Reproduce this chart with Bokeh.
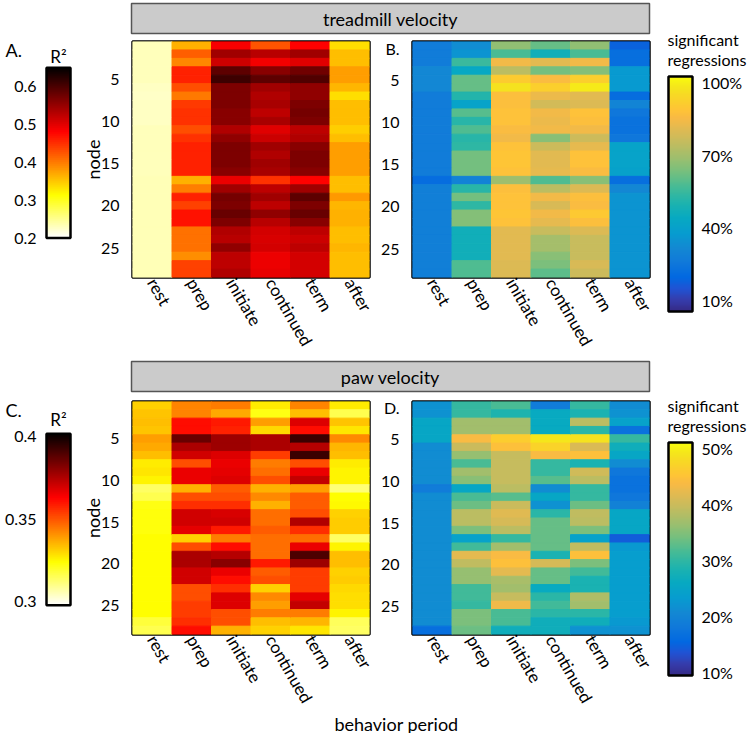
import numpy as np
from bokeh.plotting import figure
from bokeh.layouts import row, column
from bokeh.models import (ColumnDataSource, LinearColorMapper, FactorRange, Range1d,
                          FixedTicker, Label, CustomJSTickFormatter)
from bokeh.core.properties import value
from bokeh.transform import transform
from bokeh.embed import file_html
from bokeh.resources import INLINE

FONT = "Lato"

periods = ["rest", "prep", "initiate", "continued", "term", "after"]
nodes = list(range(1, 29))

# ---- Panel A: treadmill velocity, R^2 ----
A_rest = [0.230, 0.230, 0.230, 0.230, 0.230, 0.228, 0.226, 0.228, 0.228, 0.228, 0.230, 0.230, 0.230, 0.230,
          0.230, 0.230, 0.232, 0.232, 0.232, 0.232, 0.232, 0.232, 0.232, 0.232, 0.232, 0.232, 0.232, 0.232]
A_prep = [0.365, 0.418, 0.392, 0.460, 0.460, 0.429, 0.402, 0.444, 0.449, 0.449, 0.429, 0.449, 0.460, 0.460,
          0.460, 0.460, 0.365, 0.397, 0.460, 0.439, 0.470, 0.470, 0.407, 0.407, 0.407, 0.387, 0.439, 0.439]
A_init = [0.485, 0.544, 0.513, 0.587, 0.608, 0.566, 0.566, 0.566, 0.560, 0.560, 0.533, 0.555, 0.566, 0.566,
          0.566, 0.560, 0.495, 0.544, 0.571, 0.566, 0.581, 0.566, 0.533, 0.528, 0.555, 0.524, 0.524, 0.533]
A_cont = [0.426, 0.528, 0.490, 0.560, 0.587, 0.544, 0.533, 0.538, 0.524, 0.538, 0.502, 0.515, 0.544, 0.533,
          0.544, 0.538, 0.449, 0.524, 0.544, 0.524, 0.555, 0.528, 0.511, 0.506, 0.511, 0.492, 0.492, 0.497]
A_term = [0.480, 0.544, 0.502, 0.576, 0.596, 0.555, 0.555, 0.566, 0.571, 0.566, 0.524, 0.533, 0.560, 0.566,
          0.566, 0.560, 0.480, 0.544, 0.587, 0.566, 0.581, 0.560, 0.524, 0.515, 0.524, 0.511, 0.511, 0.511]
A_after = [0.334, 0.355, 0.355, 0.376, 0.376, 0.360, 0.334, 0.355, 0.355, 0.355, 0.345, 0.355, 0.376, 0.376,
           0.376, 0.376, 0.355, 0.355, 0.380, 0.360, 0.365, 0.365, 0.355, 0.355, 0.360, 0.355, 0.355, 0.355]

# ---- Panel B: treadmill velocity, % significant regressions ----
B_rest = [27, 27, 27, 31, 31, 31, 27, 27, 27, 27, 27, 27, 27, 27, 27, 27, 21, 28, 28, 28, 28, 28, 28, 28, 28, 28, 28, 28]
B_prep = [33, 35, 55, 43, 61, 61, 51, 41, 59, 52, 58, 52, 53, 63, 63, 63, 29, 52, 63, 53, 65, 65, 47, 47, 47, 47, 58, 58]
B_init = [67, 57, 84, 74, 91, 97, 87, 87, 88, 88, 86, 84, 88, 89, 89, 88, 69, 87, 88, 88, 89, 88, 81, 81, 81, 81, 80, 80]
B_cont = [61, 47, 81, 63, 86, 92, 83, 78, 84, 83, 84, 66, 77, 81, 81, 82, 58, 74, 84, 79, 84, 82, 76, 70, 70, 66, 64, 60]
B_term = [67, 57, 84, 65, 92, 99, 81, 80, 88, 87, 84, 77, 82, 88, 88, 86, 66, 80, 87, 86, 90, 87, 80, 76, 76, 76, 79, 77]
B_after = [18, 22, 22, 37, 37, 37, 21, 30, 25, 23, 23, 25, 41, 41, 41, 40, 22, 31, 35, 35, 35, 35, 35, 35, 35, 35, 35, 35]

# ---- Panel C: paw velocity, R^2 ----
C_rest = [0.331, 0.333, 0.334, 0.333, 0.339, 0.337, 0.334, 0.327, 0.328, 0.326, 0.314, 0.316, 0.322, 0.323,
          0.323, 0.323, 0.324, 0.324, 0.324, 0.324, 0.324, 0.324, 0.324, 0.324, 0.324, 0.324, 0.318, 0.316]
C_prep = [0.343, 0.343, 0.361, 0.361, 0.386, 0.376, 0.370, 0.351, 0.366, 0.366, 0.336, 0.351, 0.356, 0.370,
          0.370, 0.367, 0.331, 0.351, 0.376, 0.376, 0.370, 0.370, 0.351, 0.351, 0.354, 0.354, 0.356, 0.361]
C_init = [0.344, 0.337, 0.359, 0.358, 0.378, 0.378, 0.368, 0.366, 0.367, 0.368, 0.349, 0.351, 0.356, 0.369,
          0.370, 0.359, 0.344, 0.361, 0.374, 0.381, 0.366, 0.361, 0.356, 0.368, 0.368, 0.351, 0.351, 0.336]
C_cont = [0.327, 0.322, 0.339, 0.330, 0.376, 0.376, 0.354, 0.344, 0.346, 0.351, 0.336, 0.342, 0.336, 0.346,
          0.346, 0.349, 0.346, 0.346, 0.346, 0.359, 0.349, 0.351, 0.331, 0.342, 0.339, 0.344, 0.334, 0.331]
C_term = [0.343, 0.334, 0.368, 0.361, 0.393, 0.374, 0.393, 0.351, 0.366, 0.372, 0.339, 0.349, 0.349, 0.351,
          0.375, 0.356, 0.346, 0.366, 0.390, 0.378, 0.354, 0.354, 0.354, 0.367, 0.372, 0.344, 0.335, 0.328]
C_after = [0.327, 0.316, 0.333, 0.328, 0.342, 0.335, 0.334, 0.327, 0.326, 0.326, 0.312, 0.324, 0.325, 0.331,
           0.332, 0.332, 0.314, 0.326, 0.334, 0.334, 0.331, 0.332, 0.330, 0.329, 0.329, 0.326, 0.315, 0.314]

# ---- Panel D: paw velocity, % significant regressions ----
D_rest = [22.0, 22.0, 25.4, 25.4, 25.4, 21.2, 21.2, 21.2, 21.2, 21.2, 18.7, 21.2, 21.2, 21.2,
          21.2, 21.2, 21.2, 21.2, 21.2, 21.2, 21.2, 21.2, 21.2, 21.2, 21.2, 21.2, 21.2, 16.6]
D_prep = [30.4, 30.4, 37.1, 37.1, 43.8, 40.0, 36.3, 31.7, 37.1, 35.4, 25.4, 31.7, 33.7, 38.8,
          38.8, 34.6, 24.5, 31.2, 42.1, 39.2, 36.3, 36.3, 31.2, 31.2, 30.4, 34.6, 34.6, 33.7]
D_init = [31.7, 28.7, 37.1, 37.1, 46.3, 44.6, 39.6, 39.6, 39.6, 39.6, 38.8, 32.5, 40.0, 41.7,
          40.9, 38.8, 30.4, 37.1, 43.8, 44.6, 42.1, 37.5, 37.1, 39.6, 43.0, 31.7, 31.7, 27.1]
D_cont = [18.7, 26.2, 26.2, 26.2, 49.2, 47.1, 43.8, 30.4, 30.4, 32.5, 21.2, 25.4, 22.0, 29.6,
          33.3, 33.3, 33.3, 33.3, 28.3, 40.9, 33.3, 33.3, 26.2, 29.6, 31.2, 29.6, 27.1, 27.1]
D_term = [30.4, 28.3, 38.8, 29.6, 48.8, 41.3, 44.6, 28.3, 40.4, 38.8, 30.4, 30.4, 33.7, 39.2,
          38.8, 34.6, 24.5, 39.2, 44.6, 34.6, 31.2, 28.3, 28.3, 37.9, 37.1, 29.6, 27.1, 22.0]
D_after = [21.2, 22.0, 24.5, 17.0, 30.4, 27.1, 25.4, 21.2, 17.9, 17.0, 17.0, 17.9, 19.5, 25.4,
           25.4, 25.4, 14.5, 22.9, 23.7, 23.7, 23.7, 23.7, 23.7, 23.7, 23.7, 23.7, 22.9, 22.0]

# colour limits and colour-bar ticks
A_lim, A_ticks = (0.2, 0.65), [0.2, 0.3, 0.4, 0.5, 0.6]
B_lim, B_ticks = (5.4, 102.5), [10, 40, 70, 100]
C_lim, C_ticks = (0.298, 0.402), [0.3, 0.35, 0.4]
D_lim, D_ticks = (9.5, 51.1), [10, 20, 30, 40, 50]
node_ticks = [5, 10, 15, 20, 25]


# ---------------- colour maps ----------------
def hot_r(n=256):
    out = []
    for i in range(n):
        s = 1 - i / (n - 1)
        r = min(1.0, s / 0.375)
        g = min(1.0, max(0.0, (s - 0.375) / 0.375))
        b = min(1.0, max(0.0, (s - 0.75) / 0.25))
        out.append("#%02x%02x%02x" % (round(r * 255), round(g * 255), round(b * 255)))
    return out


_par = [(0.000, 0.2081, 0.1663, 0.5292), (0.048, 0.2081, 0.2386, 0.6771), (0.095, 0.1253, 0.3242, 0.8303),
        (0.143, 0.0060, 0.4086, 0.8828), (0.206, 0.0629, 0.4737, 0.8554), (0.270, 0.0749, 0.5375, 0.8263),
        (0.333, 0.0265, 0.6137, 0.8135), (0.397, 0.0267, 0.6642, 0.7607), (0.460, 0.1133, 0.7015, 0.6859),
        (0.524, 0.2586, 0.7317, 0.5954), (0.587, 0.4420, 0.7481, 0.5033), (0.651, 0.6099, 0.7473, 0.4337),
        (0.714, 0.7525, 0.7384, 0.3768), (0.778, 0.8824, 0.7274, 0.3217), (0.825, 0.9739, 0.7314, 0.2666),
        (0.857, 0.9990, 0.7653, 0.2164), (0.905, 0.9789, 0.8271, 0.1633), (0.952, 0.9589, 0.8949, 0.1132),
        (1.000, 0.9763, 0.9831, 0.0538)]


def parula(n=256):
    pos = [a[0] for a in _par]
    t = np.linspace(0, 1, n)
    r = np.interp(t, pos, [a[1] for a in _par])
    g = np.interp(t, pos, [a[2] for a in _par])
    b = np.interp(t, pos, [a[3] for a in _par])
    return ["#%02x%02x%02x" % (round(x * 255), round(y * 255), round(z * 255)) for x, y, z in zip(r, g, b)]


HOT = hot_r()
PAR = parula()
mA = LinearColorMapper(palette=HOT, low=A_lim[0], high=A_lim[1])
mB = LinearColorMapper(palette=PAR, low=B_lim[0], high=B_lim[1])
mC = LinearColorMapper(palette=HOT, low=C_lim[0], high=C_lim[1])
mD = LinearColorMapper(palette=PAR, low=D_lim[0], high=D_lim[1])

ROW_PX = 236 / 28.0  # height of one node row in pixels


def style_axis(ax, size="16px"):
    ax.axis_line_color = None
    ax.major_tick_line_color = None
    ax.minor_tick_line_color = None
    ax.major_tick_out = 0
    ax.major_tick_in = 0
    ax.minor_tick_out = 0
    ax.major_label_text_font = FONT
    ax.major_label_text_font_size = size
    ax.major_label_text_color = "black"


def heat_fig(cols, mapper, width, height, bl, br, bt, bb, ylabel=None, letter=None, letter_dy=0.0):
    per, nod, val = [], [], []
    for name, vals in zip(periods, cols):
        for n, v in zip(nodes, vals):
            per.append(name)
            nod.append(n)
            val.append(v)
    src = ColumnDataSource(dict(period=per, node=nod, v=val))
    p = figure(width=width, height=height, x_range=FactorRange(factors=periods), y_range=Range1d(28.5, 0.5),
               toolbar_location=None, output_backend="svg", title_location=None,
               min_border_left=bl, min_border_right=br, min_border_top=bt, min_border_bottom=bb)
    p.rect(x="period", y="node", width=1, height=1, source=src, fill_color=transform("v", mapper),
           line_color=transform("v", mapper), line_width=1)
    p.grid.visible = False
    p.outline_line_color = "black"
    p.outline_line_width = 2.5
    style_axis(p.xaxis[0], "17px")
    style_axis(p.yaxis[0], "16px")
    p.xaxis.major_label_orientation = -np.pi / 3
    p.xaxis.major_label_standoff = 2
    p.yaxis.major_label_standoff = 13
    ticks = list(node_ticks)
    if letter:
        ticks = [0.5 + letter_dy / ROW_PX] + ticks
        p.yaxis.formatter = CustomJSTickFormatter(code="return tick < 3 ? '%s' : String(tick);" % letter)
    p.yaxis.ticker = FixedTicker(ticks=ticks)
    if ylabel:
        p.yaxis.axis_label = ylabel
        p.yaxis.axis_label_text_font = FONT
        p.yaxis.axis_label_text_font_size = "18px"
        p.yaxis.axis_label_text_font_style = "normal"
        p.yaxis.axis_label_text_color = "black"
        p.yaxis.axis_label_standoff = -6
    return p


def cbar_fig(mapper, lim, ticks, labels, fx, fy, w, h, bar, label_x, label_align):
    """Colour bar drawn inside a frame that fills the whole figure (page-pixel x, value y)."""
    lo, hi = lim
    bx0, bx1, btop, bbot = bar

    def v(py):
        return lo + (bbot - py) / (bbot - btop) * (hi - lo)

    p = figure(width=w, height=h, x_range=Range1d(fx, fx + w), y_range=Range1d(v(fy + h), v(fy)),
               min_border=0, title_location=None, x_axis_location=None, y_axis_location=None,
               toolbar_location=None, output_backend="svg")
    p.grid.visible = False
    p.outline_line_color = None
    grad = np.linspace(lo, hi, 256).reshape(-1, 1)
    p.image(image=[grad], x=bx0, y=lo, dw=bx1 - bx0, dh=hi - lo, color_mapper=mapper)
    p.quad(left=[bx0], right=[bx1], bottom=[lo], top=[hi], fill_color=None, line_color="black",
           line_width=2.5)
    src = ColumnDataSource(dict(t=ticks, s=labels))
    p.text(x=label_x, y="t", text="s", source=src, text_font=value(FONT), text_font_size="16px",
           text_align=label_align, text_baseline="middle", text_color="black")
    return p, v


def put(p, vfun, px, py, text, size, align="left"):
    p.add_layout(Label(x=px, y=vfun(py), text=text, text_font=FONT, text_font_size=size, text_color="black",
                       text_align=align, text_baseline="middle"))


def header_fig(text, width, height, bt, bb):
    p = figure(width=width, height=height, x_range=Range1d(0, 1), y_range=Range1d(0, 1),
               toolbar_location=None, output_backend="svg", title_location=None,
               min_border_left=131, min_border_right=8, min_border_top=bt, min_border_bottom=bb,
               x_axis_location=None, y_axis_location=None, background_fill_color="#cbcbcb")
    p.grid.visible = False
    p.outline_line_color = "#555555"
    p.outline_line_width = 1.5
    p.add_layout(Label(x=0.5, y=0.5, text=text, text_font=FONT, text_font_size="18px", text_color="black",
                       text_align="center", text_baseline="middle"))
    return p


numlab = lambda ts: [("%g" % t) for t in ts]
pctlab = lambda ts: [("%d%%" % t) for t in ts]

# ---------------- top block (treadmill velocity) ----------------
hdr1 = header_fig("treadmill velocity", 657, 37, 3, 4)

cbA, vA = cbar_fig(mA, A_lim, A_ticks, numlab(A_ticks), 0, 37, 78, 323, (46, 70, 73, 306), 36, "right")
put(cbA, vA, 5, 48, "A.", "18px")
put(cbA, vA, 58, 57, "R²", "17px", align="center")

heatA = heat_fig([A_rest, A_prep, A_init, A_cont, A_term, A_after], mA, 299, 323, 53, 8, 4, 83, ylabel="node")
heatB = heat_fig([B_rest, B_prep, B_init, B_cont, B_term, B_after], mB, 280, 323, 34, 8, 4, 83,
                 letter="B.", letter_dy=7)

cbB, vB = cbar_fig(mB, B_lim, B_ticks, pctlab(B_ticks), 657, 0, 92, 360, (668, 692, 76, 311), 701, "left")
put(cbB, vB, 667, 39, "significant", "16px")
put(cbB, vB, 667, 59, "regressions", "16px")

top = row(column(hdr1, row(cbA, heatA, heatB)), cbB)

# ---------------- bottom block (paw velocity) ----------------
hdr2 = header_fig("paw velocity", 657, 35, 1, 4)

cbC, vC = cbar_fig(mC, C_lim, C_ticks, numlab(C_ticks), 0, 395, 78, 319, (46, 70, 439, 674), 36, "right")
put(cbC, vC, 5, 407, "C.", "18px")
put(cbC, vC, 58, 420, "R²", "17px", align="center")

heatC = heat_fig([C_rest, C_prep, C_init, C_cont, C_term, C_after], mC, 299, 319, 53, 8, 6, 77, ylabel="node")
heatD = heat_fig([D_rest, D_prep, D_init, D_cont, D_term, D_after], mD, 280, 319, 34, 8, 6, 77,
                 letter="D.", letter_dy=6)

cbD, vD = cbar_fig(mD, D_lim, D_ticks, pctlab(D_ticks), 657, 360, 92, 354, (668, 692, 442, 675), 701, "left")
put(cbD, vD, 667, 405, "significant", "16px")
put(cbD, vD, 667, 425, "regressions", "16px")

bottom = row(column(hdr2, row(cbC, heatC, heatD)), cbD)

# ---------------- footer ----------------
foot = figure(width=749, height=19, x_range=Range1d(0, 749), y_range=Range1d(0, 19), toolbar_location=None,
              output_backend="svg", min_border=0, title_location=None,
              x_axis_location=None, y_axis_location=None)
foot.grid.visible = False
foot.outline_line_color = None
foot.add_layout(Label(x=396, y=10, text="behavior period", text_font=FONT, text_font_size="18px",
                      text_color="black", text_align="center", text_baseline="middle"))

page = column(top, bottom, foot)
open("out.html", "w").write(file_html(page, INLINE))
